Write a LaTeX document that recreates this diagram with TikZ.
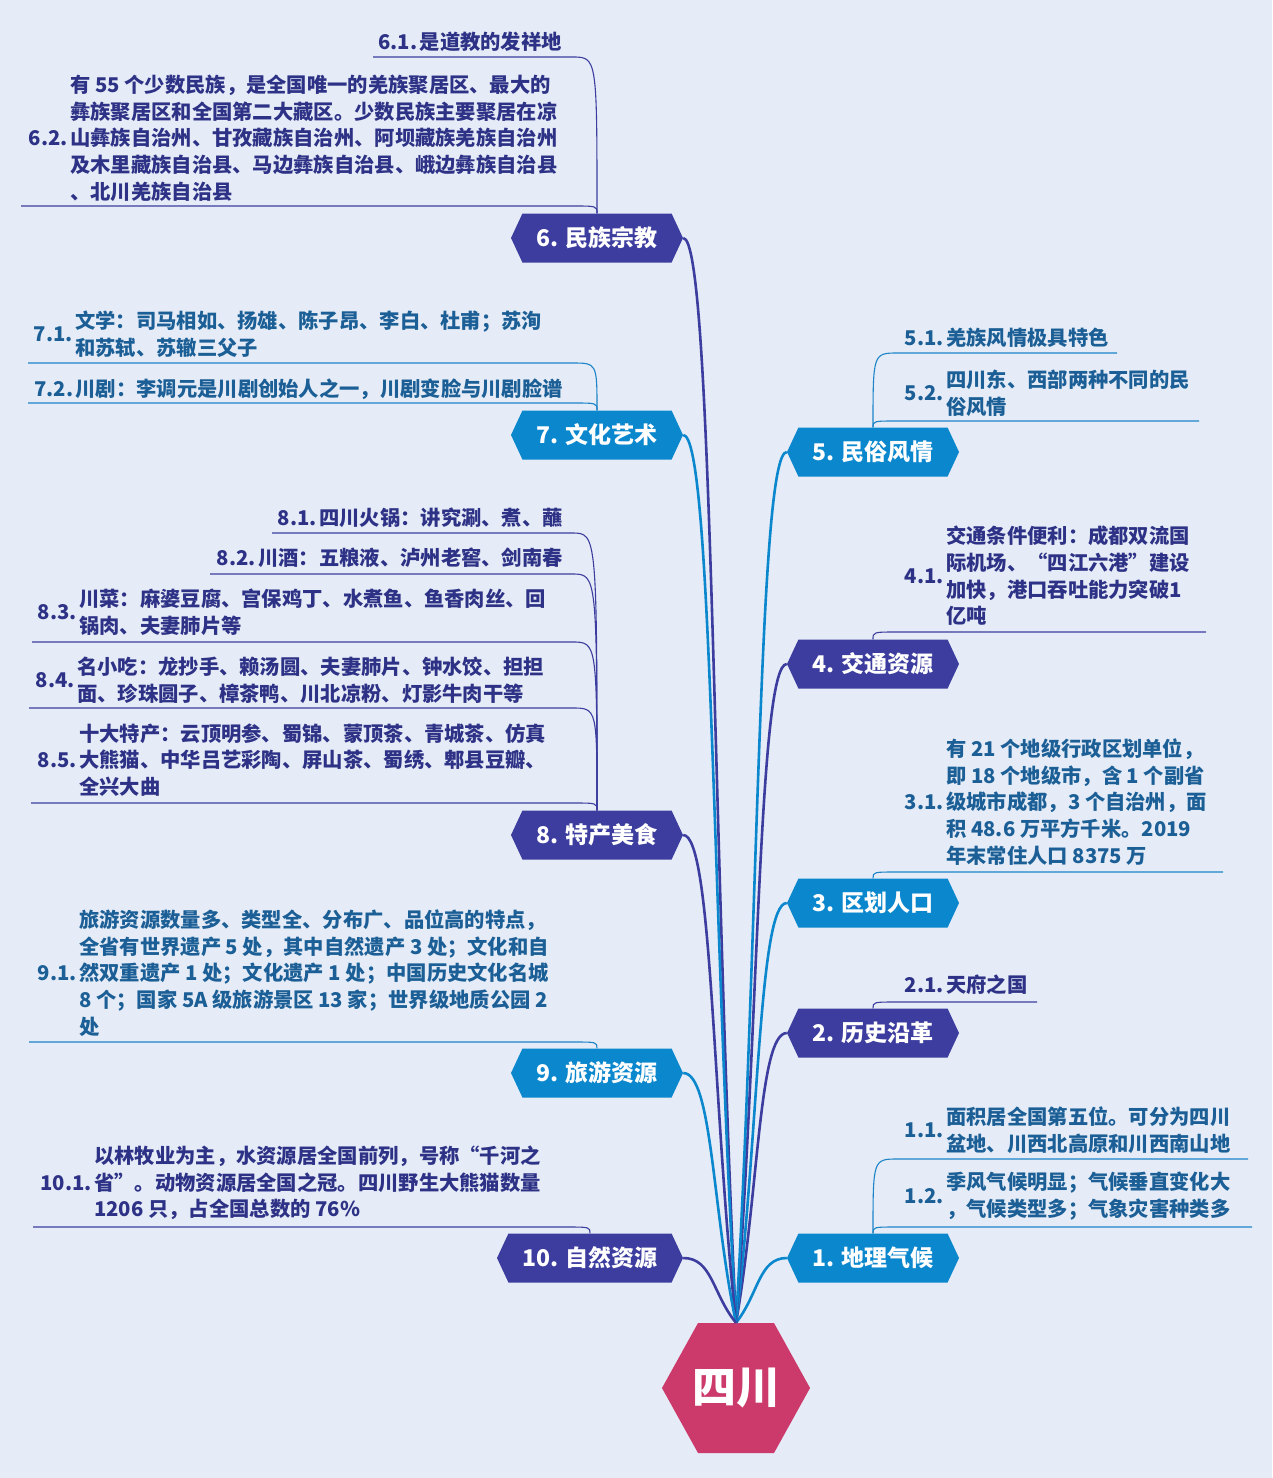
\documentclass[tikz,border=0pt]{standalone}
\usepackage{fontspec}
\setmainfont{Noto Sans CJK SC}
\usetikzlibrary{shapes.symbols,calc}

\definecolor{bgcol}{HTML}{E5ECF7}
\definecolor{rootcol}{HTML}{CC3A6B}
\definecolor{purplecol}{HTML}{3C3D9F}
\definecolor{bluecol}{HTML}{0A87CD}
\definecolor{purpletxt}{HTML}{2E3286}
\definecolor{bluetxt}{HTML}{1B5F96}
\definecolor{blueline}{HTML}{1B83C6}

\begin{document}
\begin{tikzpicture}[
    x=1pt, y=-1pt,
    every node/.style={font=\bfseries},
    rootbox/.style={
        shape=signal, signal to=west and east, signal pointer angle=122,
        fill=rootcol, text=white, inner sep=0pt,
        minimum width=148pt, minimum height=130pt,
        font=\fontsize{44}{50}\selectfont\bfseries
    },
    mainbox/.style={
        shape=signal, signal to=west and east, signal pointer angle=130,
        text=white, inner sep=0pt,
        minimum width=172pt, minimum height=49pt,
        font=\fontsize{23}{27}\selectfont\bfseries
    },
    purplebox/.style={mainbox, fill=purplecol},
    bluebox/.style={mainbox, fill=bluecol},
    ptxt/.style={
        inner sep=0pt, align=left, text=purpletxt,
        font=\fontsize{20.3}{26.7}\selectfont\bfseries
    },
    btxt/.style={ptxt, text=bluetxt},
    plbl/.style={ptxt, anchor=east, xshift=-2pt},
    blbl/.style={btxt, anchor=east, xshift=-2pt},
    pcon/.style={draw=purplecol, line width=2.6pt},
    bcon/.style={draw=bluecol, line width=2.6pt},
    psub/.style={draw=purplecol, line width=1.1pt},
    bsub/.style={draw=blueline, line width=1.1pt}
]

\useasboundingbox (0,0) rectangle (1272,1478);
\fill[bgcol] (0,0) rectangle (1272,1478);

% ----------------------------------------------------------
% Mitte und Hauptaeste
% ----------------------------------------------------------
\node[rootbox] (root) at (736,1388) {\makebox[76pt]{四川}};

\node[bluebox]   (n1) at (873,1258) {1. 地理气候};
\node[purplebox] (n2) at (873,1033) {2. 历史沿革};
\node[bluebox]   (n3) at (873,903)  {3. 区划人口};
\node[purplebox] (n4) at (873,664)  {4. 交通资源};
\node[bluebox]   (n5) at (873,452)  {5. 民俗风情};
\node[purplebox] (n6) at (597,238)  {6. 民族宗教};
\node[bluebox]   (n7) at (597,435)  {7. 文化艺术};
\node[purplebox] (n8) at (597,835)  {8. 特产美食};
\node[bluebox]   (n9) at (597,1073) {9. 旅游资源};
\node[purplebox, minimum width=186pt] (n10) at (590,1258) {10. 自然资源};

% Kurven von der Mitte zu den Aesten
\draw[bcon] (root.north) .. controls ($(root.north)!.45!(n1.west)$) and ($(n1.west)!.55!(root.north |- n1.west)$) .. (n1.west);
\draw[pcon] (root.north) .. controls ($(root.north)!.45!(n2.west)$) and ($(n2.west)!.55!(root.north |- n2.west)$) .. (n2.west);
\draw[bcon] (root.north) .. controls ($(root.north)!.45!(n3.west)$) and ($(n3.west)!.55!(root.north |- n3.west)$) .. (n3.west);
\draw[pcon] (root.north) .. controls ($(root.north)!.45!(n4.west)$) and ($(n4.west)!.55!(root.north |- n4.west)$) .. (n4.west);
\draw[bcon] (root.north) .. controls ($(root.north)!.45!(n5.west)$) and ($(n5.west)!.55!(root.north |- n5.west)$) .. (n5.west);
\draw[pcon] (root.north) .. controls ($(root.north)!.45!(n6.east)$) and ($(n6.east)!.55!(root.north |- n6.east)$) .. (n6.east);
\draw[bcon] (root.north) .. controls ($(root.north)!.45!(n7.east)$) and ($(n7.east)!.55!(root.north |- n7.east)$) .. (n7.east);
\draw[pcon] (root.north) .. controls ($(root.north)!.45!(n8.east)$) and ($(n8.east)!.55!(root.north |- n8.east)$) .. (n8.east);
\draw[bcon] (root.north) .. controls ($(root.north)!.45!(n9.east)$) and ($(n9.east)!.55!(root.north |- n9.east)$) .. (n9.east);
\draw[pcon] (root.north) .. controls ($(root.north)!.45!(n10.east)$) and ($(n10.east)!.55!(root.north |- n10.east)$) .. (n10.east);

% ----------------------------------------------------------
% Linke Seite: Unterpunkte 6 bis 10
% ----------------------------------------------------------
\node[ptxt, anchor=east] (t61) at (562,42) {是道教的发祥地};
\node[plbl] (l61) at (t61.west) {6.1.};
\node[ptxt, anchor=west] (t62) at (70,138) {有 55 个少数民族，是全国唯一的羌族聚居区、最大的\\彝族聚居区和全国第二大藏区。少数民族主要聚居在凉\\山彝族自治州、甘孜藏族自治州、阿坝藏族羌族自治州\\及木里藏族自治县、马边彝族自治县、峨边彝族自治县\\、北川羌族自治县};
\node[plbl] (l62) at (t62.west) {6.2.};

\node[btxt, anchor=west] (t71) at (75,334) {文学：司马相如、扬雄、陈子昂、李白、杜甫；苏洵\\和苏轼、苏辙三父子};
\node[blbl] (l71) at (t71.west) {7.1.};
\node[btxt, anchor=east] (t72) at (563,389) {川剧：李调元是川剧创始人之一，川剧变脸与川剧脸谱};
\node[blbl] (l72) at (t72.west) {7.2.};

\node[ptxt, anchor=east] (t81) at (563,518) {四川火锅：讲究涮、煮、蘸};
\node[plbl] (l81) at (t81.west) {8.1.};
\node[ptxt, anchor=east] (t82) at (563,558) {川酒：五粮液、泸州老窖、剑南春};
\node[plbl] (l82) at (t82.west) {8.2.};
\node[ptxt, anchor=west] (t83) at (79,612) {川菜：麻婆豆腐、宫保鸡丁、水煮鱼、鱼香肉丝、回\\锅肉、夫妻肺片等};
\node[plbl] (l83) at (t83.west) {8.3.};
\node[ptxt, anchor=west] (t84) at (77,680) {名小吃：龙抄手、赖汤圆、夫妻肺片、钟水饺、担担\\面、珍珠圆子、樟茶鸭、川北凉粉、灯影牛肉干等};
\node[plbl] (l84) at (t84.west) {8.4.};
\node[ptxt, anchor=west] (t85) at (79,760) {十大特产：云顶明参、蜀锦、蒙顶茶、青城茶、仿真\\大熊猫、中华吕艺彩陶、屏山茶、蜀绣、郫县豆瓣、\\全兴大曲};
\node[plbl] (l85) at (t85.west) {8.5.};

\node[btxt, anchor=west] (t91) at (79,973) {旅游资源数量多、类型全、分布广、品位高的特点，\\全省有世界遗产 5 处，其中自然遗产 3 处；文化和自\\然双重遗产 1 处；文化遗产 1 处；中国历史文化名城\\8 个；国家 5A 级旅游景区 13 家；世界级地质公园 2\\处};
\node[blbl] (l91) at (t91.west) {9.1.};

\node[ptxt, anchor=west] (t101) at (94,1183) {以林牧业为主，水资源居全国前列，号称“千河之\\省”。动物资源居全国之冠。四川野生大熊猫数量\\1206 只，占全国总数的 76\%};
\node[plbl] (l101) at (t101.west) {10.1.};

% Unterstreichungen links (aeussere Enden)
\coordinate (u61) at (373,57);
\coordinate (u62) at (21,206);
\coordinate (u71) at (28,363);
\coordinate (u72) at (28,403);
\coordinate (u81) at (272,533);
\coordinate (u82) at (210,574);
\coordinate (u83) at (32,642);
\coordinate (u84) at (29,708);
\coordinate (u85) at (31,803);
\coordinate (u91) at (29,1042);
\coordinate (u101) at (33,1227);

\draw[psub] (n6.north) .. controls (n6.north |- u61) .. ($(n6.north |- u61)+(-25,0)$) -- (u61);
\draw[psub] (n6.north) .. controls (n6.north |- u62) .. ($(n6.north |- u62)+(-25,0)$) -- (u62);
\draw[bsub] (n7.north) .. controls (n7.north |- u71) .. ($(n7.north |- u71)+(-25,0)$) -- (u71);
\draw[bsub] (n7.north) .. controls (n7.north |- u72) .. ($(n7.north |- u72)+(-25,0)$) -- (u72);
\draw[psub] (n8.north) .. controls (n8.north |- u81) .. ($(n8.north |- u81)+(-25,0)$) -- (u81);
\draw[psub] (n8.north) .. controls (n8.north |- u82) .. ($(n8.north |- u82)+(-25,0)$) -- (u82);
\draw[psub] (n8.north) .. controls (n8.north |- u83) .. ($(n8.north |- u83)+(-25,0)$) -- (u83);
\draw[psub] (n8.north) .. controls (n8.north |- u84) .. ($(n8.north |- u84)+(-25,0)$) -- (u84);
\draw[psub] (n8.north) .. controls (n8.north |- u85) .. ($(n8.north |- u85)+(-25,0)$) -- (u85);
\draw[bsub] (n9.north) .. controls (n9.north |- u91) .. ($(n9.north |- u91)+(-25,0)$) -- (u91);
\draw[psub] (n10.north) .. controls (n10.north |- u101) .. ($(n10.north |- u101)+(-25,0)$) -- (u101);

% ----------------------------------------------------------
% Rechte Seite: Unterpunkte 1 bis 5
% ----------------------------------------------------------
\node[btxt, anchor=west] (t51) at (946,338) {羌族风情极具特色};
\node[blbl] (l51) at (t51.west) {5.1.};
\node[btxt, anchor=west] (t52) at (946,393) {四川东、西部两种不同的民\\俗风情};
\node[blbl] (l52) at (t52.west) {5.2.};

\node[ptxt, anchor=west] (t41) at (946,576) {交通条件便利：成都双流国\\际机场、“四江六港”建设\\加快，港口吞吐能力突破1\\亿吨};
\node[plbl] (l41) at (t41.west) {4.1.};

\node[btxt, anchor=west] (t31) at (946,802) {有 21 个地级行政区划单位，\\即 18 个地级市，含 1 个副省\\级城市成都，3 个自治州，面\\积 48.6 万平方千米。2019\\年末常住人口 8375 万};
\node[blbl] (l31) at (t31.west) {3.1.};

\node[ptxt, anchor=west] (t21) at (946,985) {天府之国};
\node[plbl] (l21) at (t21.west) {2.1.};

\node[btxt, anchor=west] (t11) at (946,1130) {面积居全国第五位。可分为四川\\盆地、川西北高原和川西南山地};
\node[blbl] (l11) at (t11.west) {1.1.};
\node[btxt, anchor=west] (t12) at (946,1196) {季风气候明显；气候垂直变化大\\，气候类型多；气象灾害种类多};
\node[blbl] (l12) at (t12.west) {1.2.};

% Unterstreichungen rechts (aeussere Enden)
\coordinate (u51) at (1117,353);
\coordinate (u52) at (1199,421);
\coordinate (u41) at (1206,632);
\coordinate (u31) at (1223,872);
\coordinate (u21) at (1037,1002);
\coordinate (u11) at (1248,1159);
\coordinate (u12) at (1252,1227);

\draw[bsub] (n5.north) .. controls (n5.north |- u51) .. ($(n5.north |- u51)+(25,0)$) -- (u51);
\draw[bsub] (n5.north) .. controls (n5.north |- u52) .. ($(n5.north |- u52)+(25,0)$) -- (u52);
\draw[psub] (n4.north) .. controls (n4.north |- u41) .. ($(n4.north |- u41)+(25,0)$) -- (u41);
\draw[bsub] (n3.north) .. controls (n3.north |- u31) .. ($(n3.north |- u31)+(25,0)$) -- (u31);
\draw[psub] (n2.north) .. controls (n2.north |- u21) .. ($(n2.north |- u21)+(25,0)$) -- (u21);
\draw[bsub] (n1.north) .. controls (n1.north |- u11) .. ($(n1.north |- u11)+(25,0)$) -- (u11);
\draw[bsub] (n1.north) .. controls (n1.north |- u12) .. ($(n1.north |- u12)+(25,0)$) -- (u12);

\end{tikzpicture}
\end{document}
